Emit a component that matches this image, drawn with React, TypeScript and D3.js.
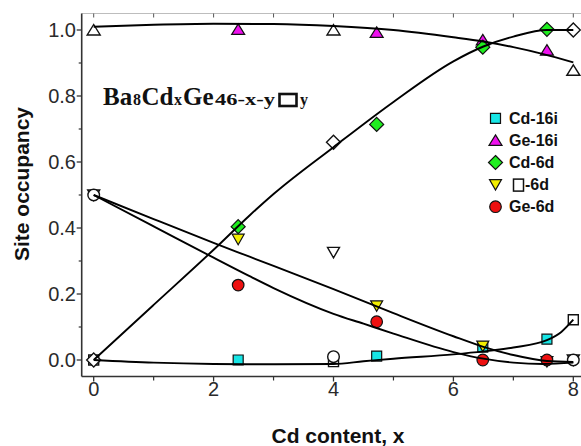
import React from "react";
import * as d3 from "d3";

// ---- data ----
const sampleX = [2.41, 4.72, 6.49, 7.56];
const cd16i = [0.0, 0.012, 0.039, 0.063];
const ge16i = [1.002, 0.993, 0.97, 0.939];
const cd6d = [0.404, 0.714, 0.948, 1.002];
const vac6d = [0.366, 0.164, 0.042, -0.005];
const ge6d = [0.227, 0.116, 0.0, 0.0];

// reference compounds (open symbols)
const refX = [0, 4, 8];
const refCd16i = [0.0, -0.005, 0.122];
const refGe16i = [1.0, 1.0, 0.878];
const refCd6d = [0.0, 0.66, 1.0];
const refVac6d = [0.5, 0.326, 0.0];
const refGe6d = [0.5, 0.01, 0.0];

// fitted guide curves
const fitGe16iX = [0, 1, 2, 3, 4, 5, 6, 6.5, 7, 7.5, 8];
const fitGe16iY = [1.01, 1.016, 1.019, 1.018, 1.012, 1.0, 0.978, 0.965, 0.948, 0.927, 0.902];
const fitCd6dX = [0, 1, 2, 2.6, 3, 4, 5, 6, 6.5, 7, 7.56, 8];
const fitCd6dY = [0, 0.167, 0.334, 0.438, 0.503, 0.645, 0.782, 0.905, 0.95, 0.98, 1.0, 1.0];
const fitCd16iX = [0, 1, 2, 3, 4, 4.5, 5, 6, 6.5, 7, 7.56, 7.8, 8];
const fitCd16iY = [0, -0.008, -0.012, -0.013, -0.012, -0.004, 0.004, 0.017, 0.026, 0.038, 0.06, 0.085, 0.122];
const fitVacX = [0, 1, 2, 2.6, 3, 4, 5, 6, 6.5, 7, 7.56, 8];
const fitVacY = [0.5, 0.427, 0.355, 0.313, 0.285, 0.215, 0.142, 0.072, 0.04, 0.015, -0.003, -0.006];
const fitGe6dX = [0, 1, 2, 2.6, 3, 4, 4.5, 5, 6, 6.5, 7, 7.5, 8];
const fitGe6dY = [0.5, 0.405, 0.31, 0.254, 0.218, 0.14, 0.11, 0.08, 0.024, 0.004, -0.008, -0.012, -0.008];

const xTicksMajor = [0, 2, 4, 6, 8];
const xTicksMinor = [1, 3, 5, 7];
const yTicksMajor = [0.0, 0.2, 0.4, 0.6, 0.8, 1.0];
const yTicksMinor = [0.1, 0.3, 0.5, 0.7, 0.9];

const legendLabels = ["Cd-16i", "Ge-16i", "Cd-6d", "-6d", "Ge-6d"];

// ---- layout ----
const W = 581;
const H = 446;
const x = d3.scaleLinear().domain([-0.2, 8.2]).range([81.7, 585.3]);
const y = d3.scaleLinear().domain([-0.05, 1.05]).range([376.5, 13.5]);

type Shape = "square" | "tri" | "diamond" | "itri" | "circle";

function markerPath(shape: Shape, cx: number, cy: number): string {
  const p = d3.path();
  if (shape === "square") {
    p.rect(cx - 5, cy - 5, 10, 10);
  } else if (shape === "tri") {
    p.moveTo(cx, cy - 5.5);
    p.lineTo(cx + 6.5, cy + 5);
    p.lineTo(cx - 6.5, cy + 5);
    p.closePath();
  } else if (shape === "itri") {
    p.moveTo(cx - 6, cy - 5);
    p.lineTo(cx + 6, cy - 5);
    p.lineTo(cx, cy + 5.5);
    p.closePath();
  } else if (shape === "diamond") {
    p.moveTo(cx, cy - 7);
    p.lineTo(cx + 7, cy);
    p.lineTo(cx, cy + 7);
    p.lineTo(cx - 7, cy);
    p.closePath();
  } else {
    p.moveTo(cx + 5.8, cy);
    p.arc(cx, cy, 5.8, 0, Math.PI * 2);
    p.closePath();
  }
  return p.toString();
}

const series = [
  { shape: "square" as Shape, color: "#17e6e6", vals: cd16i, ref: refCd16i },
  { shape: "tri" as Shape, color: "#ee10ee", vals: ge16i, ref: refGe16i },
  { shape: "diamond" as Shape, color: "#1fee1f", vals: cd6d, ref: refCd6d },
  { shape: "itri" as Shape, color: "#f2ee00", vals: vac6d, ref: refVac6d },
  { shape: "circle" as Shape, color: "#ee1010", vals: ge6d, ref: refGe6d },
];

const fits = [
  [fitGe16iX, fitGe16iY],
  [fitCd6dX, fitCd6dY],
  [fitCd16iX, fitCd16iY],
  [fitVacX, fitVacY],
  [fitGe6dX, fitGe6dY],
];

const lineGen = d3
  .line<[number, number]>()
  .x((d) => x(d[0]))
  .y((d) => y(d[1]))
  .curve(d3.curveMonotoneX);

export default function App() {
  const sans = "'Liberation Sans', Arial, Helvetica, sans-serif";
  const serif = "'Liberation Serif', 'Times New Roman', serif";
  const x0 = x(-0.2);
  const x1 = x(8.2);
  const yTop = y(1.05);
  const yBot = y(-0.05);
  const legX = 495.5;
  const legY0 = 118.3;
  const legDy = 22.1;

  return (
    <svg
      width={W}
      height={H}
      style={{ position: "absolute", left: 0, top: 0, background: "#fff" }}
    >
      <rect x={0} y={0} width={W} height={H} fill="#fff" />

      {/* frame */}
      <line x1={x0} x2={x1} y1={yTop} y2={yTop} stroke="#bdbdbd" strokeWidth={1} />
      {xTicksMajor.concat(xTicksMinor).map((t) => (
        <line key={"tt" + t} x1={x(t)} x2={x(t)} y1={yTop} y2={yTop + 4} stroke="#555" strokeWidth={1} />
      ))}
      <line x1={x0} x2={x0} y1={yTop} y2={yBot} stroke="#333" strokeWidth={1.6} />
      <line x1={x0} x2={x1} y1={yBot} y2={yBot} stroke="#333" strokeWidth={1.6} />

      {/* y ticks */}
      {yTicksMajor.map((t) => (
        <g key={"ym" + t}>
          <line x1={x0 - 5} x2={x0} y1={y(t)} y2={y(t)} stroke="#333" strokeWidth={1.3} />
          <text
            x={76}
            y={y(t)}
            dy="0.36em"
            textAnchor="end"
            fontFamily={sans}
            fontSize={20}
            fill="#2a2a2a"
          >
            {t.toFixed(1)}
          </text>
        </g>
      ))}
      {yTicksMinor.map((t) => (
        <line key={"yn" + t} x1={x0 - 3} x2={x0} y1={y(t)} y2={y(t)} stroke="#333" strokeWidth={1.2} />
      ))}

      {/* x ticks */}
      {xTicksMajor.map((t) => (
        <g key={"xm" + t}>
          <line x1={x(t)} x2={x(t)} y1={yBot} y2={yBot + 5} stroke="#333" strokeWidth={1.3} />
          <text x={x(t)} y={395.5} textAnchor="middle" fontFamily={sans} fontSize={20} fill="#2a2a2a">
            {t}
          </text>
        </g>
      ))}
      {xTicksMinor.map((t) => (
        <line key={"xn" + t} x1={x(t)} x2={x(t)} y1={yBot} y2={yBot + 4} stroke="#333" strokeWidth={1.2} />
      ))}

      {/* axis titles */}
      <text
        x={338}
        y={443}
        textAnchor="middle"
        fontFamily={sans}
        fontWeight="bold"
        fontSize={21}
        fill="#111"
      >
        Cd content, x
      </text>
      <text
        transform="translate(29,184) rotate(-90)"
        textAnchor="middle"
        fontFamily={sans}
        fontWeight="bold"
        fontSize={21}
        fill="#111"
      >
        Site occupancy
      </text>

      {/* markers: reference (open) */}
      {series.map((s, si) =>
        refX.map((xv, i) => (
          <path
            key={"r" + si + "-" + i}
            d={markerPath(s.shape, x(xv), y(s.ref[i]))}
            fill="#fff"
            stroke="#111"
            strokeWidth={1.4}
          />
        ))
      )}

      {/* markers: samples (filled) */}
      {series.map((s, si) =>
        sampleX.map((xv, i) => (
          <path
            key={"s" + si + "-" + i}
            d={markerPath(s.shape, x(xv), y(s.vals[i]))}
            fill={s.color}
            stroke="#111"
            strokeWidth={1.2}
          />
        ))
      )}

      {/* fitted curves */}
      {fits.map(([fx, fy], k) => (
        <path
          key={"f" + k}
          d={lineGen(fx.map((v, i) => [v, fy[i]] as [number, number])) || ""}
          fill="none"
          stroke="#000"
          strokeWidth={1.9}
        />
      ))}

      {/* formula label */}
      <g fontFamily={serif} fontWeight="bold" fill="#111">
        <text x={103} y={105} fontSize={25}>Ba</text>
        <text x={133} y={105} fontSize={16}>8</text>
        <text x={141.5} y={105} fontSize={25}>Cd</text>
        <text x={174} y={105} fontSize={16}>x</text>
        <text x={183} y={105} fontSize={25}>Ge</text>
        <text x={215} y={105} fontSize={16.5} textLength={60} lengthAdjust="spacingAndGlyphs">46-x-y</text>
        <rect x={279.5} y={94} width={17} height={12} fill="none" stroke="#111" strokeWidth={2.6} />
        <text x={300} y={105} fontSize={16}>y</text>
      </g>

      {/* legend */}
      {series.map((s, i) => {
        const cy = legY0 + i * legDy;
        return (
          <g key={"lg" + i}>
            <path d={markerPath(s.shape, legX, cy)} fill={s.color} stroke="#111" strokeWidth={1.2} />
            {s.shape === "itri" ? (
              <>
                <rect x={513.5} y={cy - 5.5} width={10} height={12} fill="none" stroke="#111" strokeWidth={1.5} />
                <text x={525} y={cy} dy="0.36em" fontFamily={sans} fontWeight="bold" fontSize={16} fill="#111">
                  {legendLabels[i]}
                </text>
              </>
            ) : (
              <text x={509} y={cy} dy="0.36em" fontFamily={sans} fontWeight="bold" fontSize={16} fill="#111">
                {legendLabels[i]}
              </text>
            )}
          </g>
        );
      })}
    </svg>
  );
}
